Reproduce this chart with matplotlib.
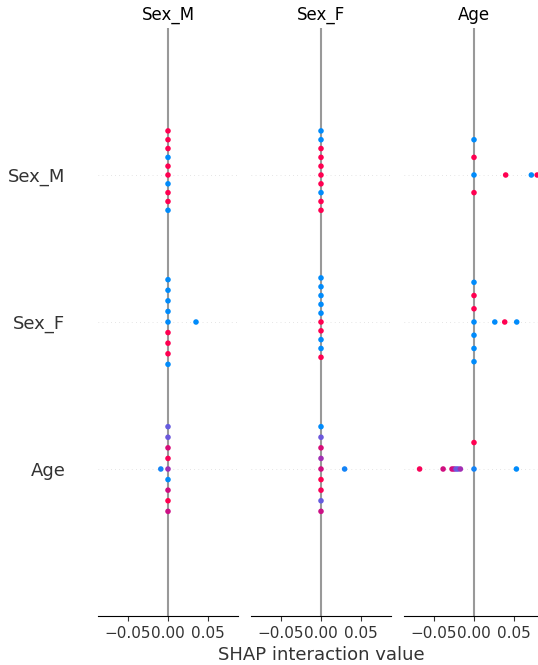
import numpy as np
import matplotlib
matplotlib.use("Agg")
import matplotlib.pyplot as plt
from matplotlib.colors import LinearSegmentedColormap

features = ["Sex_M", "Sex_F", "Age"]
axis_color = "#333333"

# interaction values per column feature, one list per row feature (Sex_M, Sex_F, Age)
# feature values (0..1) used for colouring sit in the matching *_feat lists
sexm_vals = [
    [0.0] * 10,
    [0.0] * 9 + [0.035],
    [0.0] * 9 + [-0.009],
]
sexm_feat = [
    [1, 1, 0, 0, 1, 1, 1, 1, 0, 1],
    [0, 0, 1, 0, 1, 0, 1, 0, 0, 0],
    [0.5, 0.95, 0.0, 0.75, 0.72, 0.3, 1.0, 0.28, 0.7, 0.05],
]

sexf_vals = [
    [0.0] * 10,
    [0.0] * 10,
    [0.0] * 9 + [0.0295],
]
sexf_feat = [
    [1, 1, 1, 1, 0, 1, 1, 0, 1, 0],
    [1, 0, 1, 0, 0, 0, 0, 0, 1, 0],
    [0.72, 0.5, 1.0, 0.75, 0.95, 0.3, 0.28, 0.0, 0.7, 0.05],
]

age_vals = [
    [0.0, 0.0, 0.0, 0.0, 0.0396, 0.0717, 0.079],
    [0.0, 0.0, 0.0, 0.0, 0.0, 0.0, 0.0, 0.026, 0.0384, 0.0534],
    [0.0, 0.0, -0.068, -0.0386, -0.0275, -0.025, -0.0225, -0.020, -0.017, 0.053],
]
age_feat = [
    [0, 1, 1, 0, 1, 0, 1],
    [0, 1, 0, 1, 0, 0, 0, 0, 1, 0],
    [0.05, 1.0, 0.95, 0.72, 0.75, 0.7, 0.3, 0.28, 0.5, 0.0],
]

columns = [
    ("Sex_M", sexm_vals, sexm_feat),
    ("Sex_F", sexf_vals, sexf_feat),
    ("Age", age_vals, age_feat),
]

red_blue = LinearSegmentedColormap.from_list(
    "red_blue",
    ["#008bfb", "#4f6bec", "#8a44cc", "#b8189c", "#e0086e", "#ff0051"],
)


def beeswarm_offsets(shaps, row_height=0.4, nbins=100):
    shaps = np.asarray(shaps, dtype=float)
    quant = np.round(nbins * (shaps - shaps.min()) / (shaps.max() - shaps.min() + 1e-8))
    inds = np.argsort(quant, kind="stable")
    layer = 0
    last_bin = -1
    ys = np.zeros(len(shaps))
    for ind in inds:
        if quant[ind] != last_bin:
            layer = 0
        ys[ind] = np.ceil(layer / 2) * ((layer % 2) * 2 - 1)
        layer += 1
        last_bin = quant[ind]
    ys *= 0.9 * (row_height / np.max(ys + 1))
    return ys


fig = plt.figure(figsize=(5.38, 6.65), dpi=100)
lefts = [98, 251, 404]
lim = 0.0875
n = len(features)

for k, (title, vals, feats) in enumerate(columns):
    ax = fig.add_axes([lefts[k] / 538, 49 / 665, 140 / 538, 588 / 665])
    for r in range(n):
        pos = n - 1 - r
        ax.axhline(y=pos, color="#cccccc", lw=0.5, dashes=(1, 5), zorder=-1)
        ys = beeswarm_offsets(vals[r])
        ax.scatter(vals[r], pos + ys, c=feats[r], cmap=red_blue, vmin=0, vmax=1,
                   s=16, linewidth=0, alpha=1, zorder=3)
    ax.axvline(x=0, color="#999999", zorder=-1)

    ax.set_xlim(-lim, lim)
    ax.set_ylim(-1, n)
    ax.set_xticks([-0.05, 0.0, 0.05])
    ax.set_yticks(range(n))
    if k == 0:
        ax.set_yticklabels(features[::-1], fontsize=13)
    else:
        ax.set_yticklabels([])
    ax.xaxis.set_ticks_position("bottom")
    ax.yaxis.set_ticks_position("none")
    for side in ["right", "top", "left"]:
        ax.spines[side].set_visible(False)
    ax.tick_params(color=axis_color, labelcolor=axis_color)
    ax.tick_params("y", length=20, width=0.5, which="major")
    ax.tick_params("x", labelsize=11)
    ax.set_title(title, fontsize=12)
    if k == 1:
        ax.set_xlabel("SHAP interaction value", fontsize=13, color=axis_color)

fig.savefig("out.png", dpi=100)
